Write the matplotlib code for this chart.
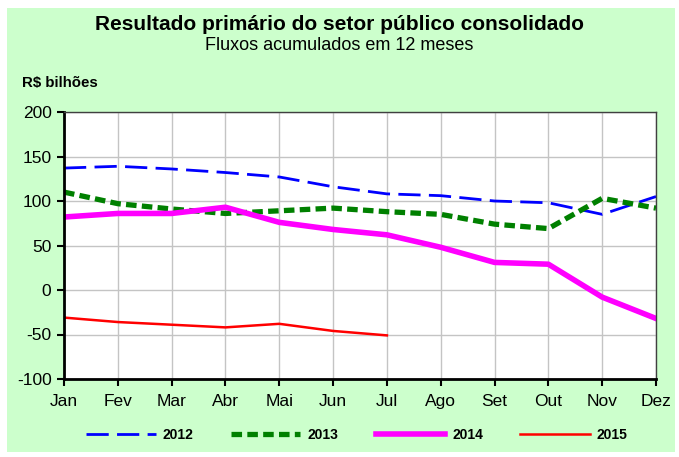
import matplotlib.pyplot as plt
from matplotlib.patches import Rectangle

plt.rcParams['font.family'] = ['Liberation Sans', 'DejaVu Sans']
plt.rcParams['axes.unicode_minus'] = False

months = ['Jan', 'Fev', 'Mar', 'Abr', 'Mai', 'Jun', 'Jul', 'Ago', 'Set', 'Out', 'Nov', 'Dez']
s2012 = [137, 139, 136, 132, 127, 116, 108, 106, 100, 98, 85, 105]
s2013 = [110, 97, 91, 86, 89, 92, 88, 85, 74, 69, 103, 92]
s2014 = [82, 86, 86, 93, 76, 68, 62, 48, 31, 29, -8, -32]
s2015 = [-31, -36, -39, -42, -38, -46, -51]

fig = plt.figure(figsize=(6.79, 4.57), dpi=100)
fig.patch.set_facecolor('white')
# green panel behind the axes
bg = Rectangle((7 / 679, 1 - 452 / 457), 668 / 679, 444 / 457,
               transform=fig.transFigure, facecolor='#ccffcc', edgecolor='none', zorder=-10)
fig.add_artist(bg)

ax = fig.add_axes([64 / 679, 1 - 379 / 457, 592 / 679, 267 / 457])
ax.set_facecolor('white')

x = list(range(len(months)))
ax.plot(x, s2012, color='#0000ff', lw=2, dashes=(8, 3), label='2012')
ax.plot(x, s2013, color='#008000', lw=3.8, dashes=(2, 1), label='2013')
ax.plot(x, s2014, color='#ff00ff', lw=4, label='2014')
ax.plot(x[:len(s2015)], s2015, color='#ff0000', lw=1.8, label='2015')

ax.set_xlim(0, 11)
ax.set_ylim(-100, 200)
ax.set_yticks(range(-100, 201, 50))
ax.set_xticks(x)
ax.set_xticklabels(months)
ax.grid(True, color='#c4c4c4', lw=1)
ax.set_axisbelow(True)
ax.tick_params(axis='both', labelsize=12.5, direction='out', length=5, width=1.5, pad=4)
ax.tick_params(axis='x', pad=6)
for side in ['left', 'bottom']:
    ax.spines[side].set_linewidth(2)
    ax.spines[side].set_color('black')
for side in ['top', 'right']:
    ax.spines[side].set_linewidth(1)
    ax.spines[side].set_color('#404040')

fig.text(0.5, 1 - 25 / 457, 'Resultado primário do setor público consolidado',
         ha='center', va='center', fontsize=15, fontweight='bold')
fig.text(0.5, 1 - 46 / 457, 'Fluxos acumulados em 12 meses',
         ha='center', va='center', fontsize=13)
fig.text(22 / 679, 1 - 83 / 457, 'R$ bilhões', ha='left', va='center',
         fontsize=10.8, fontweight='bold')

fig.legend(loc='center', bbox_to_anchor=(357 / 679, 1 - 435 / 457), ncol=4, frameon=False,
           prop={'weight': 'bold', 'size': 10}, handlelength=5, columnspacing=2.7,
           handletextpad=0.5)

fig.savefig('out.png', dpi=100, facecolor=fig.get_facecolor())
